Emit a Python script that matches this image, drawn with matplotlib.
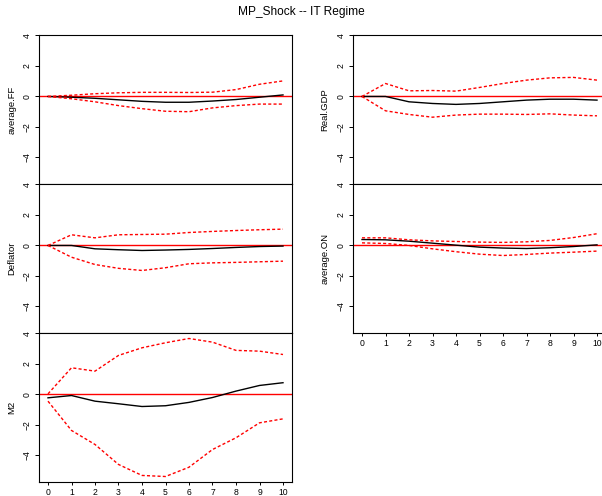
import matplotlib.pyplot as plt
import numpy as np

# impulse response horizon
steps = np.arange(11)

# average.FF
ff_irf = [0, -0.05, -0.12, -0.22, -0.32, -0.38, -0.38, -0.3, -0.2, -0.05, 0.1]
ff_up = [0, 0.08, 0.18, 0.24, 0.27, 0.27, 0.26, 0.28, 0.45, 0.8, 1.02]
ff_lo = [0, -0.15, -0.35, -0.6, -0.8, -0.97, -1.0, -0.75, -0.6, -0.5, -0.5]

# Real.GDP
gdp_irf = [0, 0, -0.35, -0.46, -0.52, -0.46, -0.35, -0.24, -0.18, -0.18, -0.24]
gdp_up = [0, 0.85, 0.37, 0.39, 0.35, 0.59, 0.85, 1.07, 1.22, 1.25, 1.07]
gdp_lo = [0, -0.94, -1.18, -1.36, -1.22, -1.16, -1.16, -1.18, -1.14, -1.22, -1.27]

# Deflator
def_irf = [0, 0, -0.22, -0.28, -0.33, -0.3, -0.26, -0.2, -0.13, -0.07, -0.04]
def_up = [0, 0.7, 0.5, 0.7, 0.72, 0.74, 0.85, 0.92, 0.98, 1.03, 1.07]
def_lo = [0, -0.77, -1.25, -1.5, -1.64, -1.46, -1.2, -1.14, -1.11, -1.07, -1.03]

# average.ON
on_irf = [0.39, 0.37, 0.28, 0.15, 0.02, -0.11, -0.17, -0.2, -0.15, -0.07, 0.04]
on_up = [0.5, 0.5, 0.37, 0.3, 0.26, 0.22, 0.2, 0.24, 0.33, 0.52, 0.77]
on_lo = [0.17, 0.13, 0, -0.22, -0.41, -0.57, -0.66, -0.59, -0.5, -0.44, -0.37]

# M2
m2_irf = [-0.22, -0.07, -0.44, -0.61, -0.79, -0.74, -0.52, -0.2, 0.22, 0.59, 0.77]
m2_up = [0.04, 1.75, 1.53, 2.56, 3.06, 3.39, 3.67, 3.43, 2.89, 2.84, 2.62]
m2_lo = [-0.44, -2.36, -3.28, -4.59, -5.31, -5.38, -4.77, -3.61, -2.84, -1.86, -1.6]

yticks = [-4, -2, 0, 2, 4]
title = 'MP_Shock -- IT Regime'

# (name, irf, lower, upper, column, row)
panels = [
    ('average.FF', ff_irf, ff_lo, ff_up, 0, 0),
    ('Deflator', def_irf, def_lo, def_up, 0, 1),
    ('M2', m2_irf, m2_lo, m2_up, 0, 2),
    ('Real.GDP', gdp_irf, gdp_lo, gdp_up, 1, 0),
    ('average.ON', on_irf, on_lo, on_up, 1, 1),
]
nrows = [3, 2]

plt.rcParams['font.family'] = ['Liberation Sans', 'DejaVu Sans']
W, H = 602, 496
fig = plt.figure(figsize=(W / 100, H / 100), dpi=100)

col_left = [38.6, 352.6]
label_x = [-0.087, -0.091]
ax_w = 253.8
top = 35
ph = 149
dash = (0, (2.2, 1.6))

for name, irf, lo, up, c, r in panels:
    bottom = H - (top + ph * (r + 1))
    ax = fig.add_axes([col_left[c] / W, bottom / H, ax_w / W, ph / H])
    ax.axhline(0, color='red', lw=1.0)
    ax.plot(steps, irf, color='black', lw=1.0)
    ax.plot(steps, up, color='red', lw=1.0, ls=dash)
    ax.plot(steps, lo, color='red', lw=1.0, ls=dash)
    ax.set_xlim(-0.4, 10.4)
    ax.set_ylim(-5.74, 4.03)
    ax.set_yticks(yticks)
    ax.set_yticklabels([str(v).replace('-', '\u2212') for v in yticks],
                       rotation=90, va='center', fontsize=6.2)
    ax.tick_params(axis='y', direction='out', length=3, width=0.7, pad=2)
    if r == nrows[c] - 1:
        ax.set_xticks(steps)
        ax.set_xticklabels([str(s) for s in steps], fontsize=6.2)
        ax.tick_params(axis='x', direction='out', length=2.5, width=0.7, pad=2)
    else:
        ax.set_xticks([])
    for sp in ax.spines.values():
        sp.set_linewidth(0.8)
    ax.set_ylabel(name, fontsize=6.8)
    ax.yaxis.set_label_coords(label_x[c], 0.5)

fig.text(0.5, 1 - 12 / H, title, ha='center', va='center', fontsize=8.6)

fig.savefig('out.png', dpi=100, facecolor='white')
